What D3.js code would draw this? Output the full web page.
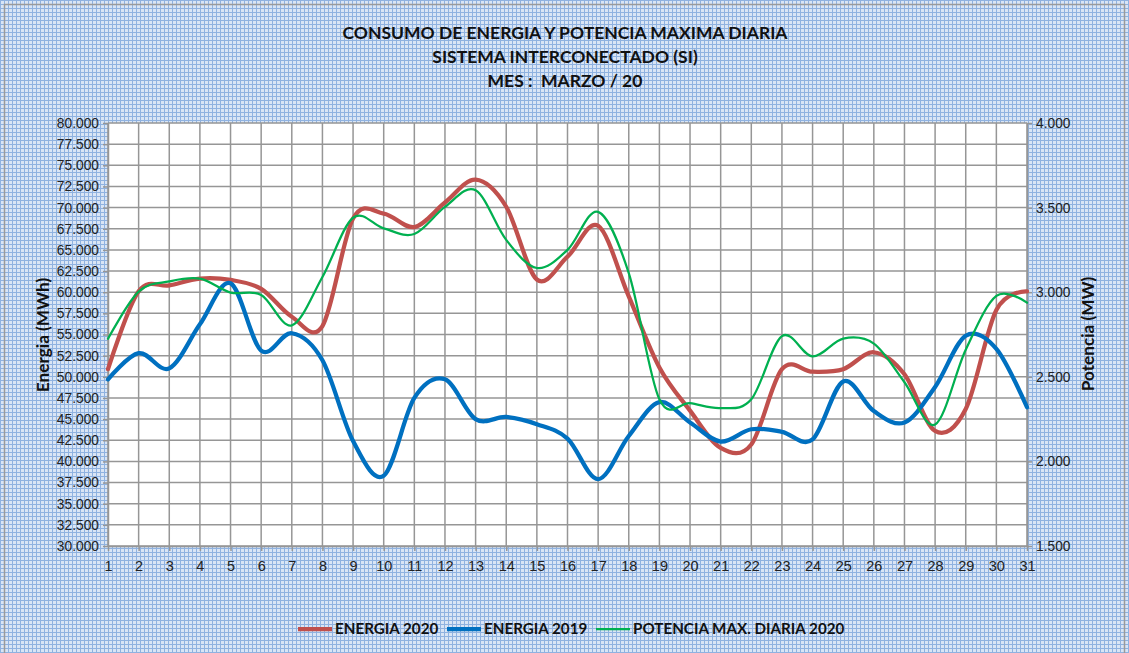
<!DOCTYPE html>
<html>
<head>
<meta charset="utf-8">
<script src="https://cdn.jsdelivr.net/npm/d3@7"></script>
<style>
  body { margin: 0; background: #fff; }
  svg { display: block; font-family: Lato, "Open Sans", sans-serif; }
</style>
</head>
<body>
<svg id="chart" width="1129" height="653"></svg>
<script>
const days = d3.range(1, 32);
const energia2020 = [50900, 60100, 60800, 61600, 61450, 60400, 57100, 56000, 68700, 69300,
  67700, 70600, 73300, 70100, 61500, 64200, 67850, 59500, 51100, 46000,
  41600, 42000, 50900, 50600, 50900, 52900, 50300, 43600, 46200, 57900, 60100];
const energia2019 = [49700, 52800, 51000, 56200, 61050, 53100, 55150, 51950, 42400, 38300,
  47500, 49700, 45000, 45250, 44400, 42700, 37900, 43000, 47000, 44600,
  42350, 43800, 43500, 42600, 49450, 45950, 44600, 48800, 54850, 53300, 46400];
const potencia2020 = [2725, 3003, 3064, 3080, 2998, 2984, 2804, 3090, 3440, 3377,
  3344, 3504, 3602, 3309, 3143, 3250, 3475, 3113, 2367, 2344,
  2315, 2367, 2740, 2621, 2726, 2696, 2468, 2218, 2660, 2978, 2938];
const energiaTicks = d3.range(30000, 80001, 2500);
const potenciaTicks = d3.range(1500, 4001, 500);
const titles = ['CONSUMO DE ENERGIA Y POTENCIA MAXIMA DIARIA', 'SISTEMA INTERCONECTADO (SI)', 'MES :  MARZO / 20'];
const series = [
  { name: 'ENERGIA 2020', values: energia2020, axis: 'left', color: '#c0504d', width: 4.25 },
  { name: 'ENERGIA 2019', values: energia2019, axis: 'left', color: '#0070c0', width: 4.25 },
  { name: 'POTENCIA MAX. DIARIA 2020', values: potencia2020, axis: 'right', color: '#00b050', width: 2.25 }
];

const svg = d3.select('#chart');
const fmtThousands = v => {
  const s = String(v);
  return s.slice(0, s.length - 3) + '.' + s.slice(-3);
};

// Excel-like small grid background
const defs = svg.append('defs');
const pat = defs.append('pattern')
  .attr('id', 'grid')
  .attr('width', 4).attr('height', 4)
  .attr('patternUnits', 'userSpaceOnUse');
pat.append('rect').attr('width', 4).attr('height', 4).attr('fill', '#d9e5f5');
pat.append('rect').attr('width', 4).attr('height', 1).attr('fill', '#8fb2e0');
pat.append('rect').attr('width', 1).attr('height', 4).attr('fill', '#8fb2e0');

svg.append('rect')
  .attr('x', 0).attr('y', 0).attr('width', 1129).attr('height', 653)
  .attr('fill', 'url(#grid)');
svg.append('rect')
  .attr('x', 4.5).attr('y', 4.5).attr('width', 1120).attr('height', 660)
  .attr('fill', 'none').attr('stroke', '#9a9a9a').attr('stroke-width', 1.5);

const margin = { left: 108, right: 1027, top: 123, bottom: 546 };

const x = d3.scaleLinear().domain([1, 31]).range([margin.left, margin.right]);
const yL = d3.scaleLinear().domain([30000, 80000]).range([margin.bottom, margin.top]);
const yR = d3.scaleLinear().domain([1500, 4000]).range([margin.bottom, margin.top]);

// plot area
svg.append('rect')
  .attr('x', margin.left).attr('y', margin.top)
  .attr('width', margin.right - margin.left).attr('height', margin.bottom - margin.top)
  .attr('fill', '#fff');

// gridlines
svg.append('g')
  .selectAll('line')
  .data(energiaTicks)
  .join('line')
  .attr('x1', margin.left).attr('x2', margin.right)
  .attr('y1', d => yL(d)).attr('y2', d => yL(d))
  .attr('stroke', '#969696').attr('stroke-width', 1.5);
svg.append('g')
  .selectAll('line')
  .data(days)
  .join('line')
  .attr('x1', d => x(d)).attr('x2', d => x(d))
  .attr('y1', margin.top).attr('y2', margin.bottom)
  .attr('stroke', '#969696').attr('stroke-width', 1.5);

// axes
const axisStyle = size => g => {
  g.select('.domain').attr('stroke', '#969696').attr('stroke-width', 1.5);
  g.selectAll('.tick line').attr('stroke', '#969696').attr('stroke-width', 1.5);
  g.selectAll('.tick text').attr('fill', '#222').style('font-size', size);
};

svg.append('g')
  .attr('transform', `translate(${margin.left},0)`)
  .call(d3.axisLeft(yL).tickValues(energiaTicks).tickFormat(fmtThousands).tickSize(5).tickSizeOuter(0).tickPadding(4))
  .call(axisStyle('13.8px'));

svg.append('g')
  .attr('transform', `translate(${margin.right},0)`)
  .call(d3.axisRight(yR).tickValues(potenciaTicks).tickFormat(fmtThousands).tickSize(5).tickSizeOuter(0).tickPadding(4))
  .call(axisStyle('13.8px'));

svg.append('g')
  .attr('transform', `translate(0,${margin.bottom})`)
  .call(d3.axisBottom(x).tickValues(days).tickFormat(d3.format('d')).tickSize(5).tickSizeOuter(0).tickPadding(10))
  .call(axisStyle('14.5px'));

// lines
const plot = svg.append('g');
series.forEach(s => {
  const yScale = s.axis === 'left' ? yL : yR;
  const line = d3.line()
    .x((d, i) => x(days[i]))
    .y(d => yScale(d))
    .curve(d3.curveCardinal.tension(0));
  plot.append('path')
    .datum(s.values)
    .attr('d', line)
    .attr('fill', 'none')
    .attr('stroke', s.color)
    .attr('stroke-width', s.width)
    .attr('stroke-linejoin', 'round')
    .attr('stroke-linecap', 'round');
});

// titles
svg.append('g')
  .selectAll('text')
  .data(titles)
  .join('text')
  .attr('x', 565)
  .attr('y', (d, i) => 39 + i * 24)
  .attr('text-anchor', 'middle')
  .style('font-size', '17.5px')
  .style('font-weight', 'bold')
  .style('white-space', 'pre')
  .attr('fill', '#111')
  .text(d => d);

svg.append('text')
  .attr('transform', `translate(49,335) rotate(-90)`)
  .attr('text-anchor', 'middle')
  .style('font-size', '17.2px')
  .style('font-weight', 'bold')
  .attr('fill', '#111')
  .text('Energia (MWh)');

svg.append('text')
  .attr('transform', `translate(1094,334) rotate(-90)`)
  .attr('text-anchor', 'middle')
  .style('font-size', '17.2px')
  .style('font-weight', 'bold')
  .attr('fill', '#111')
  .text('Potencia (MW)');

// legend
const legendX = [298, 447, 596];
const legend = svg.append('g')
  .selectAll('g')
  .data(series)
  .join('g')
  .attr('transform', (d, i) => `translate(${legendX[i]},629)`);
legend.append('line')
  .attr('x1', 0).attr('x2', 34)
  .attr('stroke', d => d.color)
  .attr('stroke-width', d => d.width);
legend.append('text')
  .attr('x', 37)
  .attr('dy', '0.36em')
  .style('font-size', '15.2px')
  .style('font-weight', 'bold')
  .attr('fill', '#111')
  .text(d => d.name);
</script>
</body>
</html>
